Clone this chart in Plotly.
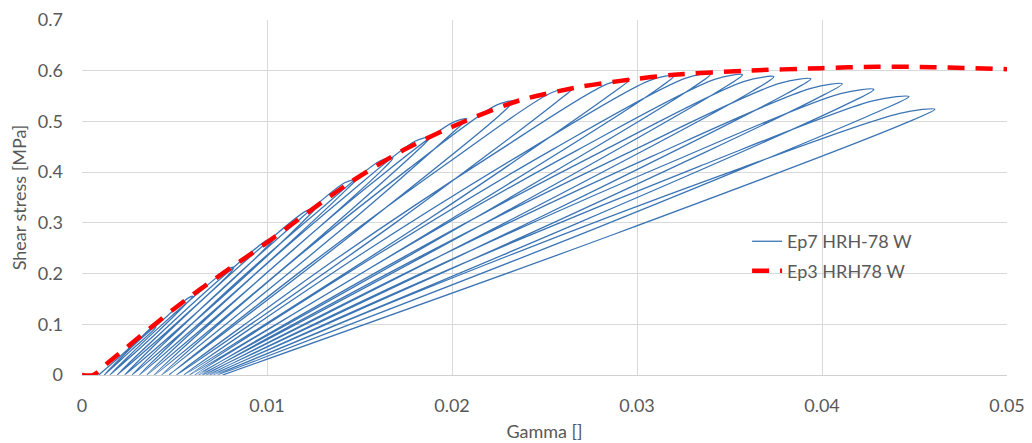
import plotly.graph_objects as go

# Cyclic test Ep7 HRH-78 W: each cycle is listed as
# reload start -> reload points -> peak -> unload points -> residual strain
ep7_gamma = [
    0.0009, 0.0021, 0.0031, 0.0038, 0.0040, 0.0039, 0.0027, 0.0012,
    0.0029, 0.0046, 0.0058, 0.0060, 0.0058, 0.0040, 0.0015,
    0.0039, 0.0062, 0.0079, 0.0082, 0.0080, 0.0054, 0.0019,
    0.0050, 0.0079, 0.0100, 0.0104, 0.0101, 0.0068, 0.0023,
    0.0060, 0.0095, 0.0121, 0.0126, 0.0122, 0.0082, 0.0027,
    0.0071, 0.0112, 0.0142, 0.0148, 0.0143, 0.0095, 0.0031,
    0.0080, 0.0127, 0.0161, 0.0168, 0.0163, 0.0108, 0.0035,
    0.0090, 0.0142, 0.0180, 0.0188, 0.0182, 0.0121, 0.0039,
    0.0100, 0.0157, 0.0200, 0.0208, 0.0201, 0.0134, 0.0043,
    0.0111, 0.0176, 0.0224, 0.0233, 0.0226, 0.0149, 0.0047,
    0.0126, 0.0200, 0.0254, 0.0265, 0.0256, 0.0169, 0.0051,
    0.0139, 0.0223, 0.0284, 0.0296, 0.0286, 0.0188, 0.0055,
    0.0150, 0.0241, 0.0307, 0.0320, 0.0310, 0.0202, 0.0058,
    0.0160, 0.0255, 0.0326, 0.0340, 0.0329, 0.0215, 0.0061,
    0.0168, 0.0268, 0.0342, 0.0357, 0.0345, 0.0225, 0.0063,
    0.0175, 0.0281, 0.0358, 0.0374, 0.0362, 0.0235, 0.0065,
    0.0183, 0.0295, 0.0377, 0.0394, 0.0381, 0.0247, 0.0067,
    0.0191, 0.0308, 0.0394, 0.0411, 0.0397, 0.0257, 0.0069,
    0.0198, 0.0320, 0.0410, 0.0428, 0.0414, 0.0267, 0.0071,
    0.0206, 0.0334, 0.0428, 0.0447, 0.0432, 0.0279, 0.0073,
    0.0213, 0.0345, 0.0442, 0.0461, 0.0446, 0.0288, 0.0076,
]
ep7_tau = [
    0.000, 0.038, 0.071, 0.094, 0.095, 0.090, 0.050, 0.000,
    0.062, 0.116, 0.153, 0.155, 0.147, 0.082, 0.000,
    0.085, 0.159, 0.209, 0.212, 0.201, 0.112, 0.000,
    0.108, 0.203, 0.266, 0.270, 0.257, 0.143, 0.000,
    0.131, 0.246, 0.323, 0.328, 0.312, 0.174, 0.000,
    0.154, 0.289, 0.379, 0.385, 0.366, 0.204, 0.000,
    0.171, 0.321, 0.422, 0.428, 0.407, 0.227, 0.000,
    0.187, 0.351, 0.461, 0.468, 0.445, 0.248, 0.000,
    0.202, 0.379, 0.497, 0.505, 0.480, 0.268, 0.000,
    0.216, 0.405, 0.532, 0.540, 0.513, 0.286, 0.000,
    0.226, 0.424, 0.557, 0.565, 0.537, 0.299, 0.000,
    0.233, 0.437, 0.574, 0.583, 0.554, 0.309, 0.000,
    0.236, 0.443, 0.581, 0.590, 0.561, 0.313, 0.000,
    0.238, 0.446, 0.585, 0.594, 0.564, 0.315, 0.000,
    0.237, 0.444, 0.583, 0.592, 0.562, 0.314, 0.000,
    0.235, 0.441, 0.579, 0.588, 0.559, 0.312, 0.000,
    0.234, 0.438, 0.575, 0.584, 0.555, 0.310, 0.000,
    0.230, 0.431, 0.565, 0.574, 0.545, 0.304, 0.000,
    0.225, 0.422, 0.555, 0.563, 0.535, 0.298, 0.000,
    0.220, 0.412, 0.541, 0.549, 0.522, 0.291, 0.000,
    0.210, 0.393, 0.516, 0.524, 0.498, 0.278, 0.000,
]

# Monotonic test Ep3 HRH78 W
ep3_gamma = [0.0000, 0.0006, 0.0014, 0.0056, 0.0098, 0.0143, 0.0174, 0.0206,
             0.0237, 0.0269, 0.0291, 0.0320, 0.0359, 0.0400, 0.0430, 0.0460,
             0.0500]
ep3_tau = [0.000, 0.000, 0.024, 0.148, 0.256, 0.375, 0.444, 0.499,
           0.542, 0.568, 0.580, 0.592, 0.600, 0.605, 0.608, 0.607,
           0.603]

x_ticks = [0, 0.01, 0.02, 0.03, 0.04, 0.05]
x_tick_text = ["0", "0.01", "0.02", "0.03", "0.04", "0.05"]
y_ticks = [0, 0.1, 0.2, 0.3, 0.4, 0.5, 0.6, 0.7]
y_tick_text = ["0", "0.1", "0.2", "0.3", "0.4", "0.5", "0.6", "0.7"]

FONT = "Lato"
TEXT = "#595959"
GRID = "#d9d9d9"

fig = go.Figure()
fig.add_trace(go.Scatter(
    x=ep7_gamma, y=ep7_tau, mode="lines", name="Ep7 HRH-78 W",
    legendgroup="a",
    line=dict(color="#3b75b5", width=1.3, shape="spline", smoothing=0.9),
))
fig.add_trace(go.Scatter(
    x=ep3_gamma, y=ep3_tau, mode="lines", name="Ep3 HRH78 W",
    legendgroup="b",
    line=dict(color="#ff0000", width=4.5, dash="17px,11px",
              shape="spline", smoothing=0.8),
))

fig.update_layout(
    width=1032, height=443,
    margin=dict(l=82, r=25, t=20, b=68),
    paper_bgcolor="white", plot_bgcolor="white",
    font=dict(family=FONT, size=18, color=TEXT),
    showlegend=True,
    legend=dict(
        x=0.719, y=0.428, xanchor="left", yanchor="top",
        bgcolor="rgba(0,0,0,0)", borderwidth=0,
        font=dict(family=FONT, size=18, color=TEXT),
        tracegroupgap=3,
    ),
    xaxis=dict(
        range=[0, 0.05], tickvals=x_ticks, ticktext=x_tick_text,
        showgrid=True, gridcolor=GRID, gridwidth=1,
        zeroline=False, showline=True, linecolor="#d0d0d0", linewidth=1,
        ticks="", ticklabelstandoff=14,
        title=dict(text="Gamma []", standoff=10,
                   font=dict(family=FONT, size=18, color=TEXT)),
        automargin=False,
    ),
    yaxis=dict(
        range=[0, 0.7], tickvals=y_ticks, ticktext=y_tick_text,
        showgrid=True, gridcolor=GRID, gridwidth=1,
        zeroline=False, showline=False,
        ticks="", ticklabelstandoff=18,
        title=dict(text="Shear stress [MPa]", standoff=6,
                   font=dict(family=FONT, size=18, color=TEXT)),
        automargin=False,
    ),
)

fig.write_html("out.html")
